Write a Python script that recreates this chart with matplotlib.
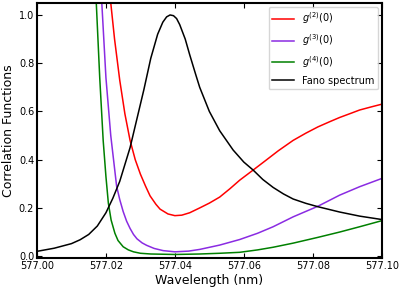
import matplotlib.pyplot as plt

# values
wl_g2 = [577.0205, 577.0214, 577.0225, 577.0240, 577.0255, 577.0270, 577.0285,
         577.0300, 577.0315, 577.0328, 577.0345, 577.0357, 577.0380, 577.0400,
         577.0420, 577.0443, 577.0472, 577.0500, 577.0530, 577.0560, 577.0588,
         577.0627, 577.0660, 577.0700, 577.0743, 577.0780, 577.0815, 577.0850,
         577.0878, 577.0910, 577.0936, 577.0970, 577.1000]
g2 = [1.17, 1.05, 0.90, 0.73, 0.59, 0.48, 0.40, 0.34, 0.29, 0.25, 0.215, 0.195,
      0.175, 0.168, 0.170, 0.18, 0.20, 0.22, 0.245, 0.28, 0.315, 0.357, 0.393,
      0.437, 0.48, 0.51, 0.536, 0.558, 0.575, 0.592, 0.606, 0.619, 0.63]

wl_g3 = [577.0182, 577.0188, 577.0200, 577.0214, 577.0231, 577.0240, 577.0250,
         577.0260, 577.0270, 577.0280, 577.0290, 577.0305, 577.0318, 577.0340,
         577.0366, 577.0400, 577.0440, 577.0472, 577.0530, 577.0588, 577.0640,
         577.0685, 577.0743, 577.0815, 577.0878, 577.0936, 577.1000]
g3 = [1.25, 1.05, 0.74, 0.50, 0.29, 0.235, 0.185, 0.145, 0.115, 0.09, 0.072,
      0.055, 0.045, 0.032, 0.023, 0.018, 0.021, 0.028, 0.046, 0.069, 0.095,
      0.122, 0.163, 0.207, 0.253, 0.288, 0.322]

wl_g4 = [577.0168, 577.0172, 577.0182, 577.0192, 577.0200, 577.0207, 577.0215,
         577.0226, 577.0235, 577.0250, 577.0265, 577.0280, 577.0300, 577.0330,
         577.0400, 577.0472, 577.0530, 577.0588, 577.0640, 577.0685, 577.0743,
         577.0815, 577.0878, 577.0936, 577.1000]
g4 = [1.20, 1.05, 0.74, 0.48, 0.33, 0.22, 0.15, 0.095, 0.065, 0.039, 0.026,
      0.018, 0.012, 0.009, 0.007, 0.009, 0.012, 0.016, 0.026, 0.037, 0.054,
      0.078, 0.10, 0.122, 0.147]

wl_fano = [577.0000, 577.0050, 577.0100, 577.0125, 577.0150, 577.0175, 577.0200,
           577.0220, 577.0240, 577.0270, 577.0290, 577.0310, 577.0330, 577.0350,
           577.0365, 577.0376, 577.0386, 577.0396, 577.0405, 577.0414, 577.0430,
           577.0443, 577.0460, 577.0472, 577.0500, 577.0530, 577.0569, 577.0600,
           577.0627, 577.0655, 577.0685, 577.0715, 577.0743, 577.0780, 577.0815,
           577.0878, 577.0936, 577.1000]
fano = [0.02, 0.033, 0.052, 0.068, 0.09, 0.125, 0.18, 0.24, 0.31, 0.45, 0.57,
        0.69, 0.82, 0.92, 0.97, 0.992, 1.0, 0.997, 0.985, 0.96, 0.90, 0.835,
        0.755, 0.70, 0.60, 0.52, 0.44, 0.39, 0.357, 0.318, 0.285, 0.258, 0.237,
        0.219, 0.205, 0.183, 0.166, 0.152]

fig = plt.figure(figsize=(3.99, 2.90), dpi=100)
ax = fig.add_axes([0.0927, 0.110, 0.864, 0.880])

lw = 1.1
ax.plot(wl_g2, g2, color="red", lw=lw, label="$g^{(2)}(0)$")
ax.plot(wl_g3, g3, color="#8a2be2", lw=lw, label="$g^{(3)}(0)$")
ax.plot(wl_g4, g4, color="green", lw=lw, label="$g^{(4)}(0)$")
ax.plot(wl_fano, fano, color="black", lw=lw, label="Fano spectrum")

ax.set_xlim(577.00, 577.10)
ax.set_ylim(-0.008, 1.05)
ax.set_xticks([577.00, 577.02, 577.04, 577.06, 577.08, 577.10])
ax.set_xticklabels(["577.00", "577.02", "577.04", "577.06", "577.08", "577.10"])
ax.set_yticks([0.0, 0.2, 0.4, 0.6, 0.8, 1.0])
ax.tick_params(direction="in", top=True, right=True, labelsize=7,
               length=3.5, width=0.8, pad=2)
for s in ax.spines.values():
    s.set_linewidth(1.5)

ax.set_xlabel("Wavelength (nm)", fontsize=9, labelpad=2)
ax.set_ylabel("Correlation Functions", fontsize=9, labelpad=3)
ax.legend(loc="upper right", fontsize=7, handlelength=2.2,
          borderaxespad=0.4, labelspacing=0.6)

fig.savefig("out.png", dpi=100)
